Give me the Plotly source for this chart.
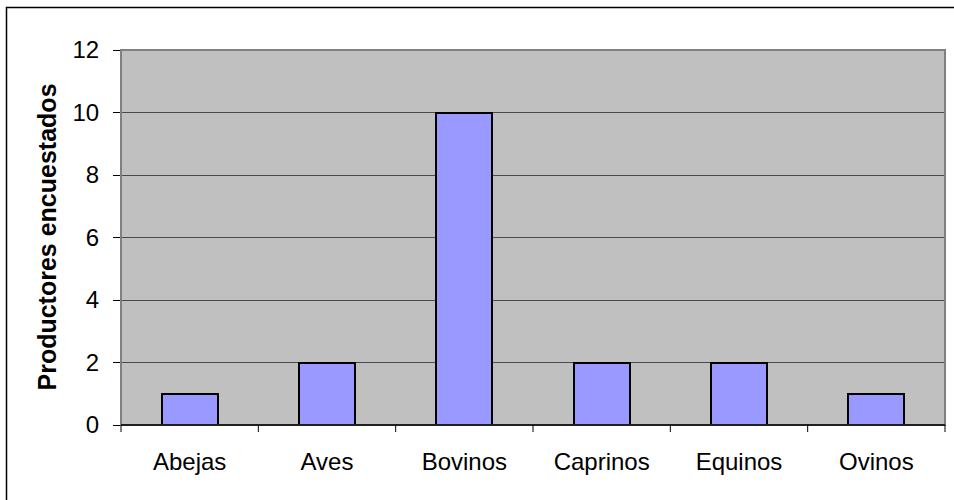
import plotly.graph_objects as go

# Productores encuestados por especie
especies = ["Abejas", "Aves", "Bovinos", "Caprinos", "Equinos", "Ovinos"]
productores = [1, 2, 10, 2, 2, 1]
y_ticks = [0, 2, 4, 6, 8, 10, 12]

W, H = 954, 500
L, R, T, B = 121, 9, 50, 75
pw, ph = W - L - R, H - T - B

fig = go.Figure(
    go.Bar(
        x=especies,
        y=productores,
        width=0.41,
        marker=dict(color="#9999FF", line=dict(color="#000000", width=2)),
        hoverinfo="x+y",
    )
)

family = "Liberation Sans, Arial, sans-serif"
font = dict(family=family, size=24, color="#000000")

fig.update_layout(
    width=W,
    height=H,
    margin=dict(l=L, r=R, t=T, b=B),
    paper_bgcolor="#FFFFFF",
    plot_bgcolor="#C0C0C0",
    font=font,
    showlegend=False,
    bargap=0,
    xaxis=dict(
        type="category",
        range=[-0.5, len(especies) - 0.5],
        showgrid=False,
        showline=False,
        ticks="",
        tickfont=font,
        ticklabelstandoff=20,
        zeroline=False,
    ),
    yaxis=dict(
        range=[0, 12],
        tickvals=y_ticks,
        showgrid=True,
        gridcolor="#4A4A4A",
        gridwidth=1,
        zeroline=False,
        showline=False,
        ticks="outside",
        ticklen=7,
        tickcolor="#000000",
        tickwidth=1,
        tickfont=font,
        ticklabelstandoff=9,
    ),
)

# y-axis title
fig.add_annotation(
    text="<b>Productores encuestados</b>",
    xref="paper", yref="paper",
    x=(46 - L) / pw, y=0.5,
    xanchor="center", yanchor="middle",
    textangle=-90, showarrow=False,
    font=dict(family=family, size=25, color="#000000"),
)

shapes = []
# plot-area frame
shapes.append(dict(type="rect", xref="paper", yref="paper", x0=0, x1=1, y0=0, y1=1,
                   line=dict(color="#808080", width=2), layer="above"))
# category axis line
shapes.append(dict(type="line", xref="paper", yref="paper", x0=0, x1=1, y0=0, y1=0,
                   line=dict(color="#000000", width=1.5), layer="above"))
# category boundary ticks
for i in range(len(especies) + 1):
    xp = i / len(especies)
    shapes.append(dict(type="line", xref="paper", yref="paper", x0=xp, x1=xp,
                       y0=0, y1=-7 / ph, line=dict(color="#000000", width=1)))
# outer chart frame
shapes.append(dict(type="rect", xref="paper", yref="paper",
                   x0=(6.5 - L) / pw, x1=(W + 10 - L) / pw,
                   y0=-(H + 10 - (H - B)) / ph, y1=(H - B - 7.5) / ph,
                   line=dict(color="#000000", width=1.5)))
fig.update_layout(shapes=shapes)

fig.write_html("out.html")
